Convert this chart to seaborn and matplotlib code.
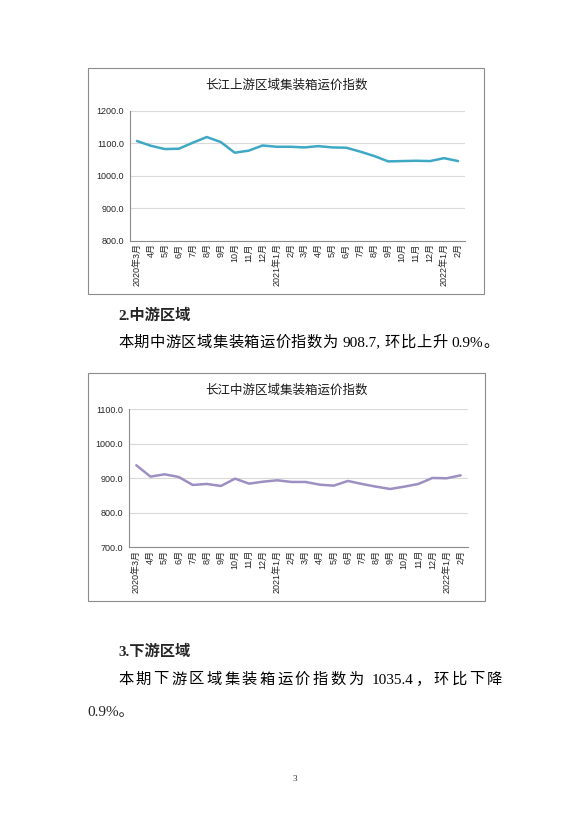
import matplotlib
matplotlib.use("Agg")
import matplotlib.pyplot as plt
from matplotlib.patches import Rectangle
import numpy as np
import pandas as pd
import seaborn as sns

months = ['2020年3月', '4月', '5月', '6月', '7月', '8月', '9月', '10月', '11月', '12月',
          '2021年1月', '2月', '3月', '4月', '5月', '6月', '7月', '8月', '9月', '10月',
          '11月', '12月', '2022年1月', '2月']

upstream = [1106.7, 1092.0, 1082.0, 1083.0, 1101.5, 1119.0, 1103.6, 1070.8, 1077.0, 1093.0,
            1089.0, 1089.0, 1087.0, 1091.0, 1087.0, 1086.0, 1074.0, 1060.5, 1044.0, 1045.0,
            1046.0, 1045.0, 1054.0, 1045.0]

midstream = [937.7, 904.8, 911.6, 903.9, 880.7, 883.6, 877.8, 899.0, 884.5, 890.3,
             894.2, 889.4, 889.4, 881.6, 878.7, 892.3, 883.6, 875.8, 869.0, 875.8,
             883.6, 901.0, 900.0, 908.7]

W, H = 588, 830
sns.set_theme(style="white")
chart_font = ['Liberation Sans', 'Noto Sans CJK SC']
body_font = ['Liberation Serif', 'Noto Sans CJK SC']
plt.rcParams['font.family'] = chart_font

fig = plt.figure(figsize=(W / 100, H / 100), dpi=100)
fig.patch.set_facecolor('white')


def fx(px):
    return px / W


def fy(py):
    return 1 - py / H


def draw_chart(box, axbox, values, color, title, yticks):
    bx0, by0, bx1, by1 = box
    fig.add_artist(Rectangle((fx(bx0), fy(by1)), fx(bx1) - fx(bx0), fy(by0) - fy(by1),
                             transform=fig.transFigure, fill=False, edgecolor='#8c8c8c', lw=0.8))
    fig.text(fx((bx0 + bx1) / 2), fy(by0 + 18), title, ha='center', va='center',
             fontsize=9, color='#1a1a1a', family=chart_font, fontweight='medium')
    l, t, r, b = axbox
    ax = fig.add_axes([fx(l), fy(b), fx(r) - fx(l), fy(t) - fy(b)])
    df = pd.DataFrame({'pos': np.arange(len(months)), 'value': values})
    sns.lineplot(data=df, x='pos', y='value', ax=ax, color=color, lw=1.8)
    ax.set_xlim(-0.5, len(months) - 0.5)
    ax.set_ylim(yticks[0], yticks[-1])
    ax.set_yticks(yticks)
    ax.set_yticklabels([f'{v:.1f}' for v in yticks], fontsize=6.5, color='#262626')
    ax.set_xticks(np.arange(len(months)))
    ax.set_xticklabels(months, rotation=90, fontsize=6.5, color='#262626', va='top', ha='center')
    ax.set_xticks(np.arange(len(months) + 1) - 0.5, minor=True)
    ax.tick_params(axis='x', which='major', length=0, pad=2)
    ax.tick_params(axis='x', which='minor', length=3, color='#8c8c8c', width=0.6, direction='out')
    ax.tick_params(axis='y', length=3, color='#8c8c8c', width=0.6, direction='out', pad=1.5)
    ax.yaxis.grid(True, color='#d9d9d9', lw=0.8)
    ax.set_axisbelow(True)
    for s in ['top', 'right']:
        ax.spines[s].set_visible(False)
    for s in ['left', 'bottom']:
        ax.spines[s].set_color('#8c8c8c')
        ax.spines[s].set_linewidth(0.8)
    ax.set_xlabel('')
    ax.set_ylabel('')
    ax.set_facecolor('white')
    return ax


draw_chart((88, 68, 484, 294), (130, 110.7, 465, 240.7), upstream, '#3fa9c5',
           '长江上游区域集装箱运价指数', [800, 900, 1000, 1100, 1200])
draw_chart((88, 373, 485, 601), (129.3, 409.3, 467.7, 547.3), midstream, '#9d8fc2',
           '长江中游区域集装箱运价指数', [700, 800, 900, 1000, 1100])

fig.canvas.draw()
renderer = fig.canvas.get_renderer()
SPACE = 3.5


def justify(tokens, x0, x1, y, size):
    # None in tokens stands for a word space of fixed width
    words = [tk for tk in tokens if tk is not None]
    texts = {i: fig.text(0, fy(y), tk, fontsize=size, va='center', ha='left',
                         family=body_font, color='black')
             for i, tk in enumerate(tokens) if tk is not None}
    widths = [texts[i].get_window_extent(renderer).width if tk is not None else SPACE
              for i, tk in enumerate(tokens)]
    gap = (x1 - x0 - sum(widths)) / (len(tokens) - 1)
    x = x0
    for i, w in enumerate(widths):
        if i in texts:
            texts[i].set_x(fx(x))
        x += w + gap


body_size = 11

fig.text(fx(118), fy(316), '2.中游区域', fontsize=body_size, fontweight='bold', va='center',
         family=body_font)
justify(list('本期中游区域集装箱运价指数为') + [None, '908.7,', None] + list('环比上升')
        + [None, '0.9%', '。'], 118, 499, 343, body_size)

fig.text(fx(118), fy(652), '3.下游区域', fontsize=body_size, fontweight='bold', va='center',
         family=body_font)
justify(list('本期下游区域集装箱运价指数为') + [None, '1035.4', '，'] + list('环比下降'),
        118, 502, 680, body_size)
fig.text(fx(87), fy(712), '0.9%。', fontsize=body_size, va='center', family=body_font)

fig.text(fx(295), fy(779), '3', fontsize=6.5, ha='center', va='center', family=body_font)

fig.savefig('out.png', dpi=100, facecolor='white')
